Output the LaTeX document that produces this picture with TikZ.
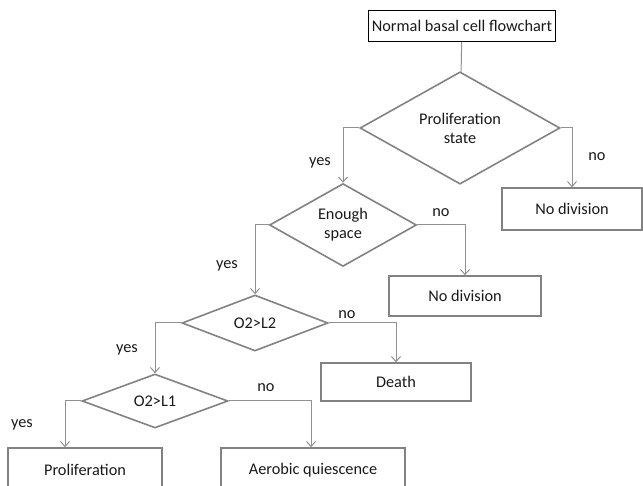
\documentclass[tikz,border=0pt]{standalone}
\usepackage{fontspec}
\setmainfont{Carlito}
\usepackage{tikz}
\usetikzlibrary{arrows.meta,positioning,shapes.geometric}

\definecolor{linegray}{RGB}{145,145,145}
\definecolor{boxgray}{RGB}{130,130,130}
\definecolor{textgray}{RGB}{25,25,25}

\begin{document}
\begin{tikzpicture}[
  x=1pt, y=-1pt,
  font=\fontsize{16.3}{19}\selectfont, text=textgray,
  box/.style={rectangle, draw=boxgray, line width=1.6pt, align=center, inner sep=0pt},
  decision/.style={diamond, draw=boxgray, line width=1.6pt, align=center, inner sep=0pt},
  arrow/.style={-{Straight Barb[length=5pt, width=9pt]}, draw=linegray, line width=1pt},
]
\useasboundingbox (0,0) rectangle (643,486);

\node[rectangle, draw=black, line width=0.9pt, minimum width=181pt, minimum height=31pt] (start) at (462,26) {Normal basal cell flowchart};
\node[decision, minimum width=200pt, minimum height=100pt] (prolif) at (460,128) {Proliferation\\state};
\node[decision, minimum width=147pt, minimum height=70pt] (space) at (343,225) {Enough\\space};
\node[decision, minimum width=146pt, minimum height=56pt] (lowtwo) at (255,323) {O2>L2};
\node[decision, minimum width=146pt, minimum height=54pt] (lowone) at (155,401) {O2>L1};

\node[box, minimum width=140pt, minimum height=42pt] (nodivA) at (572,209) {No division};
\node[box, minimum width=152pt, minimum height=40pt] (nodivB) at (465,296) {No division};
\node[box, minimum width=150pt, minimum height=38pt] (death) at (396,382) {Death};
\node[box, minimum width=154pt, minimum height=44pt] (prolifbox) at (85,470) {Proliferation};
\node[box, minimum width=184pt, minimum height=44pt] (aerobic) at (313,470) {Aerobic quiescence};

% branch labels
\node (yesA) at (320,163) {yes};
\node (noA) at (597,157) {no};
\node (yesB) at (227,266) {yes};
\node (noB) at (441,213) {no};
\node (yesC) at (127,350) {yes};
\node (noC) at (347,315) {no};
\node (yesD) at (22,425) {yes};
\node (noD) at (266,388) {no};

\draw[draw=linegray, line width=1pt] (start) -- (prolif);
\draw[arrow] (prolif.west) -| (space.north);
\draw[arrow] (prolif.east) -| (nodivA.north);
\draw[arrow] (space.west) -| (lowtwo.north);
\draw[arrow] (space.east) -| (nodivB.north);
\draw[arrow] (lowtwo.west) -| (lowone.north);
\draw[arrow] (lowtwo.east) -| (death.north);
\draw[arrow] (lowone.west) -| (prolifbox.north -| 65,0);
\draw[arrow] (lowone.east) -| (aerobic.north -| 311,0);
\end{tikzpicture}
\end{document}
